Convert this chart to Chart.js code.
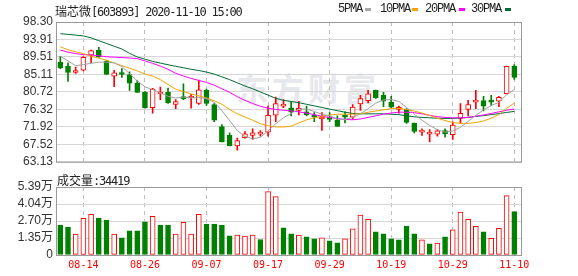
<!DOCTYPE html>
<html>
<head>
<meta charset="utf-8">
<script src="https://cdn.jsdelivr.net/npm/chart.js@4.4.0/dist/chart.umd.min.js"></script>
<style>
  html, body { margin:0; padding:0; background:#fff; }
  #wrap { position:relative; width:578px; height:276px; overflow:hidden; }
  canvas { position:absolute; left:0; }
  .txt { position:absolute; white-space:nowrap; color:#222; line-height:14px;
         font:12px "DejaVu Sans Mono", monospace; letter-spacing:-1.2px; }
  .cj { font-family:"Noto Sans CJK SC"; letter-spacing:0; }
  .lg { font-family:"Liberation Mono", monospace; }
  .sw { position:absolute; width:6px; height:3px; top:8px; }
  #wm { position:absolute; left:236px; top:71px; font:bold 32px/32px "Noto Sans CJK SC";
        color:#e7e8ec; letter-spacing:4px; white-space:nowrap; }
</style>
</head>
<body>
<div id="wrap">
  <div id="wm">东方财富</div>
  <canvas id="priceChart" width="578" height="172" style="top:0"></canvas>
  <canvas id="volChart" width="578" height="100" style="top:176px"></canvas>

  <div class="txt" style="left:55px;top:2px"><span class="cj">瑞芯微</span>[603893] 2020-11-10 15:00</div>
  <div class="txt lg" style="left:338px;top:2px">5PMA</div>
  <div class="sw" style="left:365px;background:#a8a8a8"></div>
  <div class="txt lg" style="left:380px;top:2px">10PMA</div>
  <div class="sw" style="left:412px;background:#f5a300"></div>
  <div class="txt lg" style="left:425px;top:2px">20PMA</div>
  <div class="sw" style="left:459px;background:#ff00ff"></div>
  <div class="txt lg" style="left:471px;top:2px">30PMA</div>
  <div class="sw" style="left:505px;background:#006b35"></div>
  <div class="txt" style="left:57px;top:171px"><span class="cj">成交量</span>:34419</div>
</div>

<script>
/* ========= Datos ========= */
const dates = ['08-11','08-12','08-13','08-14','08-17','08-18','08-19','08-20','08-21','08-24',
  '08-25','08-26','08-27','08-28','08-31','09-01','09-02','09-03','09-04','09-07',
  '09-08','09-09','09-10','09-11','09-14','09-15','09-16','09-17','09-18','09-21',
  '09-22','09-23','09-24','09-25','09-28','09-29','09-30','10-09','10-12','10-13',
  '10-14','10-15','10-16','10-19','10-20','10-21','10-22','10-23','10-26','10-27',
  '10-28','10-29','10-30','11-02','11-03','11-04','11-05','11-06','11-09','11-10'];
const dateTickIdx = [3, 11, 19, 27, 35, 43, 51, 59];

const opens  = [88.21,87.23,85.59,86.16,89.94,91.17,88.38,84.69,85.51,85.10,
  82.88,80.59,76.73,80.18,80.59,77.55,79.36,79.19,77.80,81.08,
  77.55,71.98,69.76,67.14,69.19,69.76,70.09,70.58,74.85,77.14,
  76.73,76.08,75.67,74.68,73.90,74.30,73.62,74.68,74.36,77.72,
  78.54,81.08,79.85,78.13,76.32,76.32,72.88,70.58,70.09,70.09,
  70.99,69.93,74.03,76.32,78.13,78.54,78.37,78.37,80.26,87.23];
const highs  = [89.61,88.05,86.98,89.60,91.25,91.90,88.62,86.16,86.57,85.75,
  83.54,80.80,81.60,81.90,81.65,78.78,82.72,80.10,83.70,81.41,
  77.80,72.47,70.42,69.10,70.75,71.40,70.99,77.14,79.44,78.78,
  78.13,78.37,77.14,75.50,75.50,75.50,74.68,75.67,77.55,79.85,
  81.08,81.20,80.59,79.60,77.14,76.49,72.90,71.40,71.24,71.24,
  71.40,73.21,77.80,78.62,81.08,79.60,79.85,79.60,87.20,87.56];
const lows   = [86.57,83.38,85.34,86.00,88.05,89.36,85.10,82.06,84.36,81.08,
  80.59,76.60,75.34,78.78,77.80,76.49,78.78,76.65,77.55,77.30,
  73.20,68.12,67.14,66.07,69.10,68.78,69.60,69.60,73.21,76.73,
  74.68,74.93,74.68,73.20,71.00,73.20,72.06,72.88,73.86,76.08,
  77.96,79.10,77.00,76.73,75.34,72.80,70.42,69.76,68.12,69.60,
  69.35,68.78,72.88,74.68,76.49,75.90,77.30,76.98,80.20,83.87];
const closes = [86.74,85.59,85.92,89.44,91.08,89.53,85.10,85.51,85.10,82.88,
  80.59,76.73,81.41,80.42,77.96,78.29,79.03,79.36,81.24,77.80,
  73.62,68.12,67.14,68.45,70.17,70.42,70.34,74.85,77.80,77.63,
  75.67,76.32,74.93,74.36,74.20,73.80,72.06,74.36,76.90,79.03,
  80.26,79.19,78.37,76.90,76.65,73.04,70.75,70.75,70.34,70.91,
  70.17,72.39,75.34,77.55,78.37,77.14,78.13,79.36,87.15,84.36];

const ma5  = [89.7,88.5,87.3,87.6,87.9,88.2,88.2,88.0,87.1,85.3,
  83.5,82.0,81.3,80.5,79.6,79.2,79.4,79.2,79.3,79.0,
  78.1,76.0,73.5,71.0,69.5,68.9,69.3,70.9,72.7,74.2,
  75.3,76.4,76.4,75.8,75.1,74.7,73.9,73.8,74.3,75.2,
  76.5,77.9,78.7,78.8,78.3,76.8,75.1,73.6,72.3,71.2,
  70.6,70.9,71.8,73.3,74.8,76.2,77.3,78.1,80.0,81.3];
const ma10 = [92.07,91.3,90.8,90.35,89.7,89.2,88.7,88.0,87.3,86.7,
  86.0,85.2,84.7,83.8,82.6,81.4,80.8,80.2,79.7,79.2,
  78.5,77.6,76.3,75.2,74.4,73.6,72.7,72.2,71.9,71.9,
  72.1,72.9,73.7,74.2,74.6,74.9,75.1,75.1,75.1,75.2,
  75.6,75.9,76.2,76.5,76.6,76.3,75.9,75.4,74.8,74.1,
  73.5,73.0,72.8,72.8,73.0,73.4,74.1,75.0,76.6,77.9];
const ma20 = [91.25,90.7,90.35,90.1,90.0,89.8,89.55,89.45,89.36,89.25,
  89.1,88.5,87.9,87.2,86.4,85.4,84.7,84.1,83.6,83.1,
  82.4,81.5,80.6,79.5,78.6,77.8,77.1,76.6,76.3,76.1,
  75.9,75.7,75.4,75.0,74.6,74.3,74.0,73.8,73.7,73.9,
  74.3,74.7,75.1,75.4,75.6,75.6,75.5,75.2,74.8,74.5,
  74.3,74.2,74.2,74.3,74.6,74.9,75.3,75.7,76.1,76.4];
const ma30 = [95.35,95.2,95.0,94.8,94.3,93.6,92.9,92.2,91.5,90.4,
  89.5,88.95,88.4,87.95,87.55,87.15,86.8,86.4,86.1,85.7,
  85.2,84.5,83.8,83.0,82.2,81.5,80.7,79.9,79.1,78.6,
  78.3,78.0,77.6,77.2,76.8,76.4,76.0,75.6,75.3,75.2,
  75.2,75.2,75.2,75.1,75.0,74.7,74.45,74.3,74.2,74.1,
  74.05,74.05,74.15,74.3,74.55,74.75,75.0,75.25,75.55,75.8];

const volumes = [23800,22200,16500,29000,32200,29300,27700,16500,13600,19100,
  19100,26200,30600,23800,23800,16500,25900,16500,32200,24600,
  24600,23800,15200,15700,14900,15700,12300,50200,46300,21500,
  16700,15700,14400,12800,13600,11300,9700,12800,20700,31700,
  28300,18300,16700,12800,12000,23000,16700,12000,8900,9400,
  14400,19900,34000,28300,22800,18300,13300,21200,47100,34419];
const volUp = [0,0,1,1,1,0,0,1,0,0, 0,0,1,0,0,1,1,1,1,0,
  0,0,0,1,1,1,0,1,1,0, 0,1,0,0,1,0,0,1,1,1,
  1,0,0,0,0,0,0,1,0,1, 0,1,1,1,1,0,1,1,1,0];

const priceTicks = ['63.13','67.52','71.92','76.32','80.72','85.11','89.51','93.91','98.30'];
const volTickVals = [0, 13475, 26950, 40425, 53900];
const volTickLabels = ['0','1.35万','2.70万','4.04万','5.39万'];

/* ========= Estilo ========= */
const RED = '#ff0000', GREEN = '#008000';
const X_MIN = -0.56, X_MAX = 60.0;
Chart.defaults.font.family = '"Liberation Sans", "Noto Sans CJK SC", sans-serif';
Chart.defaults.font.size = 12;
Chart.defaults.color = '#333';

// marco gris alrededor del área de trazado
const frame = {
  id: 'frame',
  afterDraw(c) {
    const a = c.chartArea, ctx = c.ctx;
    ctx.save();
    ctx.strokeStyle = '#9a9a9a';
    ctx.lineWidth = 1;
    ctx.strokeRect(a.left + 0.5, a.top + 0.5, a.right - a.left - 1, a.bottom - a.top);
    ctx.restore();
  }
};

function xScale(showLabels) {
  return {
    type: 'linear', min: X_MIN, max: X_MAX, offset: false,
    afterBuildTicks: s => { s.ticks = dateTickIdx.map(v => ({ value: v })); },
    afterFit: s => { s.height = showLabels ? 21 : 0; },
    ticks: {
      display: showLabels, autoSkip: false, maxRotation: 0, padding: 4,
      color: RED, font: { family: '"DejaVu Sans Mono", monospace', size: 10 },
      callback: v => dates[v]
    },
    grid: { color: '#bdbdbd', drawTicks: false, offset: false },
    border: { display: false, dash: [4, 4] }
  };
}

function yScale(min, max, vals, labels) {
  return {
    min, max,
    afterBuildTicks: s => { s.ticks = vals.map(v => ({ value: v })); },
    afterFit: s => { s.width = 56; },
    ticks: { padding: 3, autoSkip: false, callback: (v, i) => labels[i] },
    grid: { color: '#d6d6d6', drawTicks: false },
    border: { display: false }
  };
}

const isUp = i => closes[i] >= opens[i];
const idx = dates.map((d, i) => i);
const maLine = (arr, color) => ({
  type: 'line', order: 0,
  data: arr.map((v, i) => ({ x: i, y: v })),
  borderColor: color, borderWidth: 1, pointRadius: 0, tension: 0
});

/* ========= Velas ========= */
new Chart(document.getElementById('priceChart'), {
  type: 'bar',
  data: {
    datasets: [
      maLine(ma5, '#a0a0a0'),
      maLine(ma10, '#f5a300'),
      maLine(ma20, '#ff00ff'),
      maLine(ma30, '#006b35'),
      {
        order: 1, grouped: false, barThickness: 5, minBarLength: 2,
        data: idx.map(i => ({ x: i, y: [opens[i], closes[i]] })),
        backgroundColor: idx.map(i => isUp(i) ? '#fff' : GREEN),
        borderColor: idx.map(i => isUp(i) ? RED : GREEN),
        borderWidth: 1, borderSkipped: false
      },
      {
        order: 2, grouped: false, barThickness: 1,
        data: idx.map(i => ({ x: i, y: [lows[i], highs[i]] })),
        backgroundColor: idx.map(i => isUp(i) ? RED : GREEN),
        borderWidth: 0
      }
    ]
  },
  options: {
    responsive: false, animation: false, events: [],
    layout: { padding: { top: 22, right: 56, bottom: 7, left: 0 } },
    plugins: { legend: { display: false }, tooltip: { enabled: false } },
    scales: {
      x: xScale(false),
      y: yScale(63.13, 98.30, priceTicks.map(t => parseFloat(t)), priceTicks)
    }
  },
  plugins: [frame]
});

/* ========= Volumen ========= */
new Chart(document.getElementById('volChart'), {
  type: 'bar',
  data: {
    datasets: [{
      grouped: false, barThickness: 5,
      data: idx.map(i => ({ x: i, y: volumes[i] })),
      backgroundColor: idx.map(i => volUp[i] ? '#fff' : GREEN),
      borderColor: idx.map(i => volUp[i] ? RED : GREEN),
      borderWidth: 1, borderSkipped: false
    }]
  },
  options: {
    responsive: false, animation: false, events: [],
    layout: { padding: { top: 11, right: 56, bottom: 0, left: 0 } },
    plugins: { legend: { display: false }, tooltip: { enabled: false } },
    scales: {
      x: xScale(true),
      y: yScale(0, 53900, volTickVals, volTickLabels)
    }
  },
  plugins: [frame]
});
</script>
</body>
</html>
